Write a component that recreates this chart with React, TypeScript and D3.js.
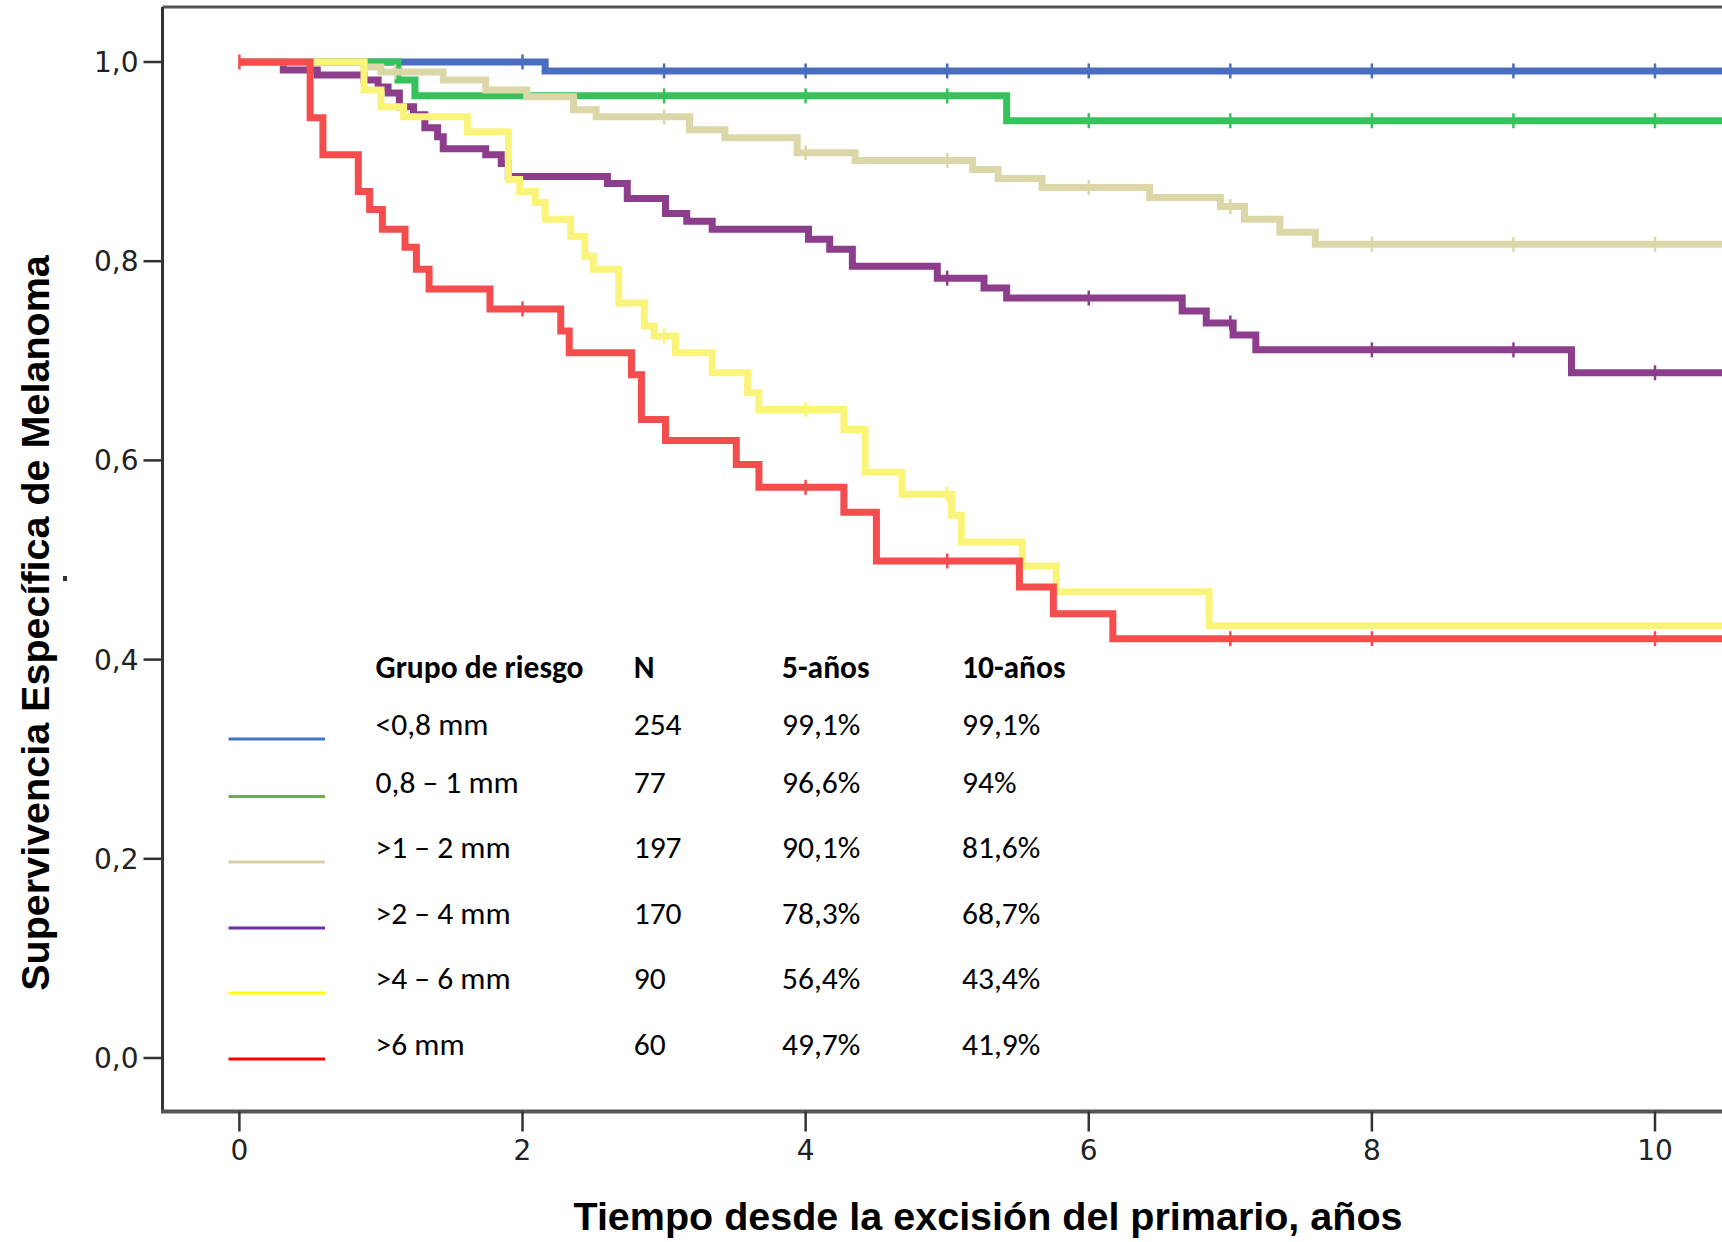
import React from "react";
import * as d3 from "d3";

const W = 1722;
const H = 1242;

// ---------- data ----------
const groupLabels = ["<0,8 mm", "0,8 – 1 mm", ">1 – 2 mm", ">2 – 4 mm", ">4 – 6 mm", ">6 mm"];
const groupN = ["254", "77", "197", "170", "90", "60"];
const surv5 = ["99,1%", "96,6%", "90,1%", "78,3%", "56,4%", "49,7%"];
const surv10 = ["99,1%", "94%", "81,6%", "68,7%", "43,4%", "41,9%"];
const tableHeaders = ["Grupo de riesgo", "N", "5-años", "10-años"];

const blueTimes = [0, 2.16];
const blueSurv = [1.0, 0.991];
const blueCens = [2, 3, 4, 5, 6, 7, 8, 9, 10];

const greenTimes = [0, 1.12, 1.24, 5.42];
const greenSurv = [1.0, 0.982, 0.966, 0.941];
const greenCens = [3, 4, 5, 6, 7, 8, 9, 10];

const beigeTimes = [0, 0.88, 1.0, 1.44, 1.74, 2.03, 2.36, 2.52, 3.18, 3.43, 3.94, 4.35, 5.18, 5.36, 5.67, 6.43, 6.93, 7.1, 7.35, 7.6];
const beigeSurv = [1, 0.995, 0.99, 0.982, 0.972, 0.965, 0.952, 0.945, 0.932, 0.924, 0.909, 0.901, 0.892, 0.883, 0.874, 0.864, 0.855, 0.842, 0.829, 0.817];
const beigeCens = [1.1, 3, 4, 5, 6, 7, 8, 9, 10];

const purpleTimes = [0, 0.31, 0.55, 0.88, 0.98, 1.05, 1.13, 1.23, 1.31, 1.4, 1.44, 1.74, 1.85, 1.9, 2.6, 2.74, 3.01, 3.16, 3.34, 4.02, 4.17, 4.33, 4.93, 5.26, 5.42, 6.66, 6.83, 7.02, 7.18, 9.41];
const purpleSurv = [1, 0.992, 0.987, 0.982, 0.975, 0.969, 0.955, 0.947, 0.934, 0.925, 0.913, 0.907, 0.898, 0.885, 0.878, 0.863, 0.848, 0.84, 0.832, 0.822, 0.812, 0.795, 0.783, 0.773, 0.763, 0.75, 0.738, 0.726, 0.711, 0.688];
const purpleCens = [5, 6, 7, 8, 9, 10];

const yellowTimes = [0, 0.88, 1.0, 1.16, 1.61, 1.9, 1.98, 2.09, 2.16, 2.34, 2.44, 2.5, 2.68, 2.86, 2.93, 3.08, 3.34, 3.59, 3.67, 4.27, 4.42, 4.68, 5.03, 5.1, 5.53, 5.77, 6.85];
const yellowSurv = [1, 0.972, 0.955, 0.945, 0.93, 0.882, 0.87, 0.859, 0.842, 0.825, 0.805, 0.792, 0.758, 0.735, 0.725, 0.708, 0.688, 0.668, 0.651, 0.631, 0.588, 0.566, 0.545, 0.518, 0.494, 0.468, 0.434];
const yellowCens = [3, 4, 5];

const redTimes = [0, 0.5, 0.59, 0.84, 0.92, 1.01, 1.17, 1.25, 1.34, 1.77, 2.27, 2.33, 2.77, 2.84, 3.01, 3.51, 3.67, 4.27, 4.5, 5.51, 5.75, 6.17];
const redSurv = [1, 0.944, 0.907, 0.87, 0.852, 0.832, 0.814, 0.792, 0.772, 0.752, 0.73, 0.708, 0.686, 0.641, 0.62, 0.596, 0.573, 0.548, 0.499, 0.473, 0.446, 0.421];
const redCens = [0, 2, 4, 5, 7, 8, 10];

const xTicks = [0, 2, 4, 6, 8, 10];
const yTicks = [0, 0.2, 0.4, 0.6, 0.8, 1.0];

const lineColors = ["#4a6ebd", "#36c25a", "#dcd7a8", "#8c3d8c", "#fbf47a", "#f34d4d"];
const legendColors = ["#4472c4", "#70ad47", "#d9d1a6", "#7030a0", "#ffff00", "#ff0000"];

const seriesTimes = [blueTimes, greenTimes, beigeTimes, purpleTimes, yellowTimes, redTimes];
const seriesSurv = [blueSurv, greenSurv, beigeSurv, purpleSurv, yellowSurv, redSurv];
const seriesCens = [blueCens, greenCens, beigeCens, purpleCens, yellowCens, redCens];

const MAX_T = 10.6;

// ---------- layout ----------
const x = d3.scaleLinear().domain([0, 10]).range([239.4, 1655]);
const y = d3.scaleLinear().domain([0, 1]).range([1058, 62]);

const frameLeft = 162.5;
const frameTop = 7;
const frameBottom = 1111.5;

const legendCols = [375.6, 633.7, 782, 962];
const headerBaseline = 678;
const rowBaselines = [735, 792.5, 858, 924, 989, 1055];
const legendLineX = [228.5, 325];

const stepLine = d3
  .line<[number, number]>()
  .x((d) => x(d[0]))
  .y((d) => y(d[1]))
  .curve(d3.curveStepAfter);

function survAt(times: number[], surv: number[], t: number) {
  let v = surv[0];
  for (let i = 0; i < times.length; i++) if (times[i] <= t) v = surv[i];
  return v;
}

const legendFont = "Carlito, Calibri, Lato, sans-serif";
const legendSize = 31.5;
const tickFont = "'DejaVu Sans', sans-serif";
const titleFont = "'Liberation Sans', Arial, sans-serif";

export default function App() {
  return (
    <svg
      width={W}
      height={H}
      viewBox={`0 0 ${W} ${H}`}
      style={{ position: "absolute", left: 0, top: 0, background: "#fff" }}
    >
      <rect x={0} y={0} width={W} height={H} fill="#fff" />

      {/* frame */}
      <line x1={frameLeft} y1={frameTop} x2={W} y2={frameTop} stroke="#555" strokeWidth={3} />
      <line x1={frameLeft} y1={frameTop} x2={frameLeft} y2={frameBottom} stroke="#333" strokeWidth={3} />
      <line x1={frameLeft - 1.5} y1={frameBottom} x2={W} y2={frameBottom} stroke="#555" strokeWidth={4} />

      {/* y ticks */}
      {yTicks.map((t) => (
        <g key={"yt" + t}>
          <line x1={frameLeft - 19} x2={frameLeft} y1={y(t)} y2={y(t)} stroke="#333" strokeWidth={2.5} />
          <text
            x={frameLeft - 24}
            y={y(t) + 10}
            textAnchor="end"
            fontFamily={tickFont}
            fontSize={28}
            fill="#222"
          >
            {d3.format(".1f")(t).replace(".", ",")}
          </text>
        </g>
      ))}

      {/* x ticks */}
      {xTicks.map((t) => (
        <g key={"xt" + t}>
          <line x1={x(t)} x2={x(t)} y1={frameBottom} y2={frameBottom + 20} stroke="#333" strokeWidth={2.5} />
          <text x={x(t)} y={1160} textAnchor="middle" fontFamily={tickFont} fontSize={28} fill="#222">
            {t}
          </text>
        </g>
      ))}

      {/* curves */}
      {seriesTimes.map((times, i) => {
        const pts: [number, number][] = times.map((t, j) => [t, seriesSurv[i][j]]);
        pts.push([MAX_T, seriesSurv[i][seriesSurv[i].length - 1]]);
        return (
          <g key={"s" + i}>
            <path d={stepLine(pts) || ""} fill="none" stroke={lineColors[i]} strokeWidth={7} />
            {seriesCens[i].map((c) => {
              const v = survAt(times, seriesSurv[i], c);
              return (
                <line
                  key={"c" + c}
                  x1={x(c)}
                  x2={x(c)}
                  y1={y(v) - 7.5}
                  y2={y(v) + 7.5}
                  stroke={lineColors[i]}
                  strokeWidth={2.5}
                />
              );
            })}
          </g>
        );
      })}

      {/* legend table */}
      {tableHeaders.map((h, k) => (
        <text
          key={"h" + k}
          x={legendCols[k]}
          y={headerBaseline}
          fontFamily={legendFont}
          fontWeight="bold"
          fontSize={legendSize}
          fill="#000"
        >
          {h}
        </text>
      ))}
      {groupLabels.map((g, i) => (
        <g key={"r" + i}>
          <line
            x1={legendLineX[0]}
            x2={legendLineX[1]}
            y1={rowBaselines[i] + 4}
            y2={rowBaselines[i] + 4}
            stroke={legendColors[i]}
            strokeWidth={3}
          />
          {[g, groupN[i], surv5[i], surv10[i]].map((s, k) => (
            <text
              key={"c" + k}
              x={legendCols[k]}
              y={rowBaselines[i]}
              fontFamily={legendFont}
              fontSize={legendSize}
              fill="#000"
            >
              {s}
            </text>
          ))}
        </g>
      ))}

      {/* small artifact mark */}
      <rect x={63} y={576} width={4} height={5} fill="#333" />

      {/* axis titles */}
      <text
        x={988}
        y={1230}
        textAnchor="middle"
        fontFamily={titleFont}
        fontWeight="bold"
        fontSize={39.5}
        fill="#000"
      >
        Tiempo desde la excisión del primario, años
      </text>
      <text
        transform={`translate(49, 623) rotate(-90)`}
        textAnchor="middle"
        fontFamily={titleFont}
        fontWeight="bold"
        fontSize={39.5}
        fill="#000"
      >
        Supervivencia Específica de Melanoma
      </text>
    </svg>
  );
}
